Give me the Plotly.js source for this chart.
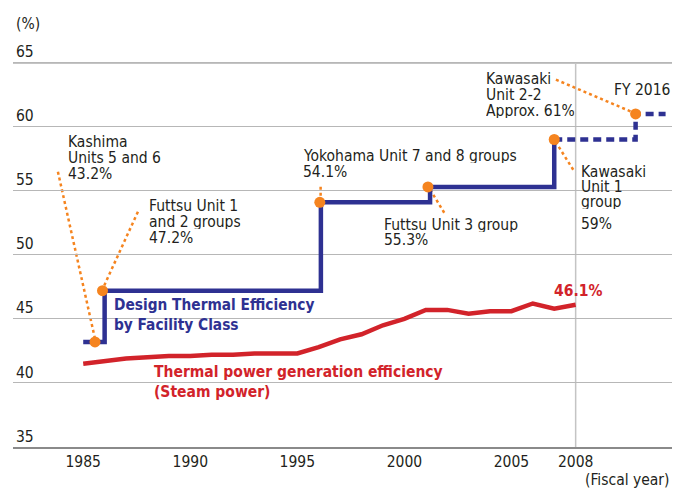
<!DOCTYPE html>
<html>
<head>
<meta charset="utf-8">
<script src="https://cdn.plot.ly/plotly-3.0.1.min.js"></script>
<style>html,body{margin:0;padding:0;background:#fff;}#chart{width:675px;height:488px;}</style>
</head>
<body>
<div id="chart"></div>
<script>
// ---- data ----
const years = [1985,1986,1987,1988,1989,1990,1991,1992,1993,1994,1995,1996,1997,1998,1999,2000,2001,2002,2003,2004,2005,2006,2007,2008];
const steamEfficiency = [41.5,41.7,41.9,42.0,42.1,42.1,42.2,42.2,42.3,42.3,42.3,42.8,43.4,43.8,44.5,45.0,45.7,45.7,45.4,45.6,45.6,46.2,45.8,46.1];

const designYears = [1985,1986,1996.1,2001.2,2007];
const designValues = [43.2,47.2,54.1,55.3,59.0];
const planYears = [2007,2010.8,2012.2];
const planValues = [59.0,61.0,61.0];

const milestoneYears = [1985.55,1985.9,1996.05,2001.1,2007.0,2010.8];
const milestoneValues = [43.2,47.2,54.1,55.3,59.0,61.0];

const xTickVals = [1985,1990,1995,2000,2005,2008];
const xTickText = ['1985','1990','1995','2000','2005','2008'];
const yTickVals = [35,40,45,50,55,60,65];

// ---- pixel helpers for label placement ----
const X = px => 1985 + (px - 83.3) / 21.41;
const Y = py => 35 + (447 - py) / 12.8;
const PX = px => (px - 13) / 659;
const PY = py => (447 - py) / (447 - 37.4);

const FONT = 'DejaVu Sans Condensed, Liberation Sans Narrow, Arial Narrow, sans-serif';
const TXT = '#231f20';
const BLUE = '#2e3192';
const RED = '#d2232a';
const ORANGE = '#f5841f';

const traces = [
  {x: years, y: steamEfficiency, mode: 'lines', line: {color: RED, width: 4.5}, hoverinfo: 'skip'},
  {x: designYears, y: designValues, mode: 'lines', line: {color: BLUE, width: 4.5, shape: 'hv'}, hoverinfo: 'skip'},
  {x: planYears, y: planValues, mode: 'lines', line: {color: BLUE, width: 4.5, shape: 'hv', dash: '8px,5px'}, hoverinfo: 'skip'},
  {x: milestoneYears, y: milestoneValues, mode: 'markers', marker: {color: ORANGE, size: 11}, hoverinfo: 'skip'}
];

// leader lines (pixel start -> marker)
const leaders = [
  [[58,172],[95.7,341.7]],
  [[138,212],[102,290.7]],
  [[320.7,187],[320.7,202]],
  [[444.3,213],[428.7,187.3]],
  [[573.3,170],[554.3,140]],
  [[556,80],[636,114]]
];
const shapes = leaders.map(l => ({
  type: 'line', xref: 'x', yref: 'y',
  x0: X(l[0][0]), y0: Y(l[0][1]), x1: X(l[1][0]), y1: Y(l[1][1]),
  line: {color: ORANGE, width: 2.5, dash: 'dot'}, layer: 'below'
}));
shapes.unshift({type: 'line', xref: 'x', yref: 'y', x0: 2008, x1: 2008, y0: 35, y1: 65,
  line: {color: '#c4c4c4', width: 1.5}, layer: 'below'});
shapes.unshift({type: 'line', xref: 'paper', yref: 'y', x0: 0, x1: 1, y0: 65, y1: 65,
  line: {color: '#8a8a8a', width: 1.5}, layer: 'below'});

const labelBlocks = [
  {x: 66, ys: [142,158,174], lines: ['Kashima','Units 5 and 6','43.2%']},
  {x: 147, ys: [206,222,238], lines: ['Futtsu Unit 1','and 2 groups','47.2%']},
  {x: 301, ys: [156,172], lines: ['Yokohama Unit 7 and 8 groups','54.1%']},
  {x: 382, ys: [225,240], lines: ['Futtsu Unit 3 group','55.3%']},
  {x: 579, ys: [172,187,202,224], lines: ['Kawasaki','Unit 1','group','59%']},
  {x: 484, ys: [79,95,111], lines: ['Kawasaki','Unit 2-2','Approx. 61%']}
];
const annotations = [];
labelBlocks.forEach(b => b.lines.forEach((t, i) => annotations.push({
  xref: 'x', yref: 'y', x: X(b.x), y: Y(b.ys[i]), text: t, showarrow: false, height: 14,
  xanchor: 'left', yanchor: 'middle', font: {family: FONT, size: 15.5, color: TXT}
})));
annotations.push({xref: 'paper', yref: 'paper', x: 1, y: PY(90), text: 'FY 2016', showarrow: false,
  xanchor: 'right', yanchor: 'middle', font: {family: FONT, size: 15.5, color: TXT}});
annotations.push({xref: 'paper', yref: 'paper', x: PX(14), y: PY(24), text: '(%)', showarrow: false,
  xanchor: 'left', yanchor: 'middle', font: {family: FONT, size: 15.5, color: TXT}});
annotations.push({xref: 'paper', yref: 'paper', x: 1, y: PY(480), text: '(Fiscal year)', showarrow: false,
  xanchor: 'right', yanchor: 'middle', font: {family: FONT, size: 15.5, color: TXT}});
annotations.push({xref: 'x', yref: 'y', x: X(112), y: Y(315.5), text: 'Design Thermal Efficiency<br>by Facility Class',
  showarrow: false, xanchor: 'left', yanchor: 'middle', align: 'left',
  font: {family: FONT, size: 15.3, color: BLUE, weight: 700}});
annotations.push({xref: 'x', yref: 'y', x: X(152), y: Y(382.5), text: 'Thermal power generation efficiency<br>(Steam power)',
  showarrow: false, xanchor: 'left', yanchor: 'middle', align: 'left',
  font: {family: FONT, size: 15.5, color: RED, weight: 700}});
annotations.push({xref: 'x', yref: 'y', x: X(552), y: Y(291), text: '46.1%',
  showarrow: false, xanchor: 'left', yanchor: 'middle',
  font: {family: FONT, size: 15.5, color: RED, weight: 700}});

const layout = {
  width: 675, height: 488,
  margin: {l: 13, r: 3, t: 37.4, b: 41, pad: 0},
  paper_bgcolor: '#fff', plot_bgcolor: '#fff',
  showlegend: false,
  font: {family: FONT, size: 15, color: TXT},
  xaxis: {
    range: [1981.72, 2012.5], tickvals: xTickVals, ticktext: xTickText,
    showgrid: false, zeroline: false, showline: true, mirror: false,
    linecolor: '#8a8a8a', linewidth: 1.5, ticks: '', ticklen: 0,
    tickfont: {family: FONT, size: 15.5, color: TXT}
  },
  yaxis: {
    range: [35, 67], tickvals: yTickVals,
    showgrid: true, gridcolor: '#b7b7b7', gridwidth: 1, zeroline: false, showline: false,
    ticks: '', ticklabelposition: 'inside top',
    tickfont: {family: FONT, size: 15.5, color: TXT}
  },
  shapes: shapes,
  annotations: annotations
};

Plotly.newPlot('chart', traces, layout, {staticPlot: true, displayModeBar: false});
</script>
</body>
</html>
